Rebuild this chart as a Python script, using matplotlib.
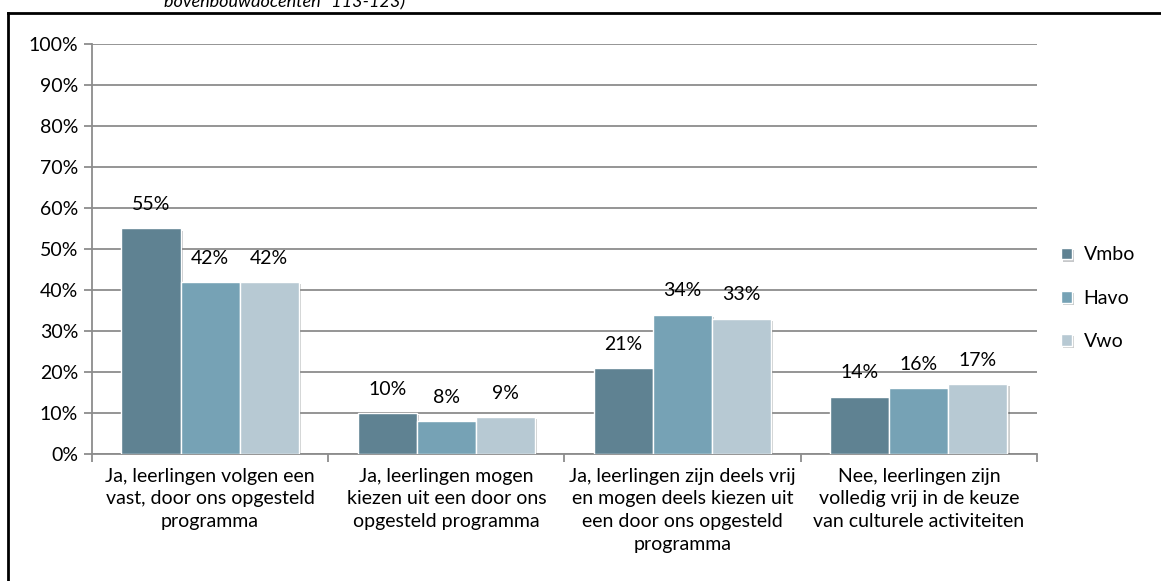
import numpy as np
import matplotlib.pyplot as plt
import matplotlib.patheffects as pe

categorieen = [
    'Ja, leerlingen volgen een\nvast, door ons opgesteld\nprogramma',
    'Ja, leerlingen mogen\nkiezen uit een door ons\nopgesteld programma',
    'Ja, leerlingen zijn deels vrij\nen mogen deels kiezen uit\neen door ons opgesteld\nprogramma',
    'Nee, leerlingen zijn\nvolledig vrij in de keuze\nvan culturele activiteiten',
]
vmbo = [55, 10, 21, 14]
havo = [42, 8, 34, 16]
vwo = [42, 9, 33, 17]
series = ['Vmbo', 'Havo', 'Vwo']
kleuren = ['#5f8292', '#76a2b5', '#b7c9d3']

plt.rcParams['font.family'] = ['Lato', 'DejaVu Sans']

fig = plt.figure(figsize=(11.61, 5.81), dpi=100)
ax = fig.add_axes([0.0792, 0.2186, 0.814, 0.7057])

x = np.arange(len(categorieen))
breedte = 0.25
schaduw = [pe.SimplePatchShadow(offset=(1.5, -1.5), alpha=0.25), pe.Normal()]
for i, (naam, waarden) in enumerate(zip(series, [vmbo, havo, vwo])):
    pos = x + (i - 1) * breedte
    bars = ax.bar(pos, waarden, breedte, color=kleuren[i], edgecolor='white',
                  linewidth=1, label=naam, zorder=3)
    for b in bars:
        b.set_path_effects(schaduw)
    for p, v in zip(pos, waarden):
        ax.annotate(f'{v}%', (p, v), xytext=(0, 11), textcoords='offset points',
                    ha='center', va='bottom', fontsize=14, zorder=4)

ax.set_xlim(-0.5, 3.5)
ax.set_ylim(0, 100)
ax.set_yticks(range(0, 101, 10))
ax.set_yticklabels([f'{t}%' for t in range(0, 101, 10)], fontsize=14)
ax.yaxis.grid(True, color='#8c8c8c', linewidth=1.3, zorder=0)
ax.set_axisbelow(True)

ax.set_xticks([-0.5, 0.5, 1.5, 2.5, 3.5])
ax.set_xticklabels([])
ax.set_xticks(x, minor=True)
ax.set_xticklabels(categorieen, minor=True, fontsize=14, linespacing=1.4)
ax.tick_params(axis='x', which='minor', length=0, pad=10)
ax.tick_params(axis='x', which='major', length=6, color='#8c8c8c', width=1.3)
ax.tick_params(axis='y', length=6, color='#8c8c8c', width=1.3, pad=4)
for kant in ['top', 'right']:
    ax.spines[kant].set_visible(False)
for kant in ['left', 'bottom']:
    ax.spines[kant].set_color('#8c8c8c')
    ax.spines[kant].set_linewidth(1.3)

leg = ax.legend(loc='center left', bbox_to_anchor=(1.007, 0.38), frameon=False,
                fontsize=14, handlelength=0.55, handleheight=0.55,
                labelspacing=1.35, handletextpad=0.6)

# kader en afgesneden bijschrift
fig.add_artist(plt.Line2D([0.0065, 0.0065], [0, 0.978], color='black', lw=2))
fig.add_artist(plt.Line2D([0.0065, 1.0], [0.978, 0.978], color='black', lw=2))
fig.text(0.245, 0.996, 'bovenbouwdocenten" 113-123)', style='italic',
         fontsize=13, ha='center', va='center')

fig.savefig('out.png', dpi=100)
